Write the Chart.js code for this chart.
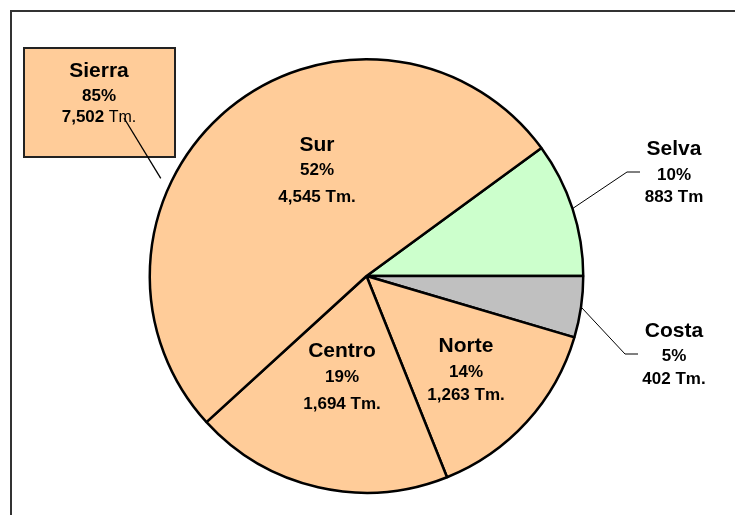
<!DOCTYPE html>
<html>
<head>
<meta charset="utf-8">
<script src="https://cdn.jsdelivr.net/npm/chart.js@4/dist/chart.umd.min.js"></script>
<style>
  html,body{margin:0;padding:0;background:#fff;}
  #wrap{width:735px;height:515px;}
</style>
</head>
<body>
<div id="wrap"><canvas id="grafico" width="735" height="515"></canvas></div>
<script>
// datos (toneladas por region)
const regiones = ['Selva','Costa','Norte','Centro','Sur'];
const toneladas = [883, 402, 1263, 1694, 4545];
const sufijos = [' Tm',' Tm.',' Tm.',' Tm.',' Tm.'];
// la Sierra agrupa Norte, Centro y Sur
const regionesSierra = ['Norte','Centro','Sur'];

const colores = ['#CCFFCC','#C0C0C0','#FFCC99','#FFCC99','#FFCC99'];
const FONT = '"Liberation Sans", Arial, sans-serif';

const total = toneladas.reduce((a,b)=>a+b,0);
const fmt = n => n.toLocaleString('en-US');
const pct = n => Math.round(n*100/total)+'%';

// posicion de cada etiqueta: centro x, linea base del nombre, y lineas siguientes
const posEtiquetas = {
  Selva:{x:674,y:[155,180,202]},
  Costa:{x:674,y:[337,361,384]},
  Norte:{x:466,y:[352,377,400]},
  Centro:{x:342,y:[357,382,409]},
  Sur:{x:317,y:[151,175,202]}
};
// lineas guia (codo final) para las regiones pequeñas
const guias = {
  Selva:[[627,172],[640,172]],
  Costa:[[625,354],[638,354]]
};

function texto(ctx,s,x,y,size,bold){
  ctx.font=(bold?'bold ':'')+size+'px '+FONT;
  ctx.fillText(s,x,y);
}

const etiquetasPlugin = {
  id:'etiquetas',
  beforeDraw(chart){
    const ctx=chart.ctx;
    ctx.save();
    ctx.fillStyle='#fff';
    ctx.fillRect(0,0,chart.width,chart.height);
    ctx.strokeStyle='#333';
    ctx.lineWidth=2;
    ctx.beginPath();
    ctx.moveTo(11,chart.height+5);
    ctx.lineTo(11,11);
    ctx.lineTo(chart.width+5,11);
    ctx.stroke();
    ctx.restore();
  },
  afterDraw(chart){
    const ctx=chart.ctx;
    const arcs=chart.getDatasetMeta(0).data;
    ctx.save();
    ctx.fillStyle='#000';
    ctx.textAlign='center';
    ctx.textBaseline='alphabetic';

    regiones.forEach((r,i)=>{
      const p=posEtiquetas[r];
      texto(ctx,r,p.x,p.y[0],21,true);
      texto(ctx,pct(toneladas[i]),p.x,p.y[1],17,true);
      texto(ctx,fmt(toneladas[i])+sufijos[i],p.x,p.y[2],17,true);

      if(guias[r]){
        const a=arcs[i];
        const mid=(a.startAngle+a.endAngle)/2;
        ctx.strokeStyle='#000';
        ctx.lineWidth=1;
        ctx.beginPath();
        ctx.moveTo(a.x+Math.cos(mid)*a.outerRadius, a.y+Math.sin(mid)*a.outerRadius);
        guias[r].forEach(pt=>ctx.lineTo(pt[0],pt[1]));
        ctx.stroke();
      }
    });

    // recuadro Sierra
    const sierra=regionesSierra.reduce((s,r)=>s+toneladas[regiones.indexOf(r)],0);
    ctx.fillStyle='#FFCC99';
    ctx.fillRect(24,48,151,109);
    ctx.strokeStyle='#222';
    ctx.lineWidth=2;
    ctx.strokeRect(24,48,151,109);
    ctx.fillStyle='#000';
    texto(ctx,'Sierra',99,77,21,true);
    texto(ctx,pct(sierra),99,101,17,true);
    const num=fmt(sierra);
    ctx.font='16px '+FONT;
    const wT=ctx.measureText(' Tm.').width;
    ctx.font='bold 17px '+FONT;
    const wN=ctx.measureText(num).width;
    const x0=99-(wN+wT)/2;
    ctx.textAlign='left';
    ctx.fillText(num,x0,122);
    ctx.font='16px '+FONT;
    ctx.fillText(' Tm.',x0+wN,122);

    // guia Sierra hacia la torta
    const c=arcs[0];
    const ang=205.4*Math.PI/180;
    ctx.strokeStyle='#000';
    ctx.lineWidth=1.3;
    ctx.beginPath();
    ctx.moveTo(124,118);
    ctx.lineTo(c.x+Math.cos(ang)*(c.outerRadius+11), c.y+Math.sin(ang)*(c.outerRadius+11));
    ctx.stroke();
    ctx.restore();
  }
};

new Chart(document.getElementById('grafico').getContext('2d'),{
  type:'pie',
  data:{
    labels:regiones,
    datasets:[{
      data:toneladas,
      backgroundColor:colores,
      borderColor:'#000',
      borderWidth:2.5,
      hoverOffset:0
    }]
  },
  options:{
    responsive:false,
    animation:false,
    rotation:53.8,
    layout:{padding:{left:148,right:150,top:58,bottom:21}},
    plugins:{legend:{display:false},tooltip:{enabled:false}}
  },
  plugins:[etiquetasPlugin]
});
</script>
</body>
</html>
